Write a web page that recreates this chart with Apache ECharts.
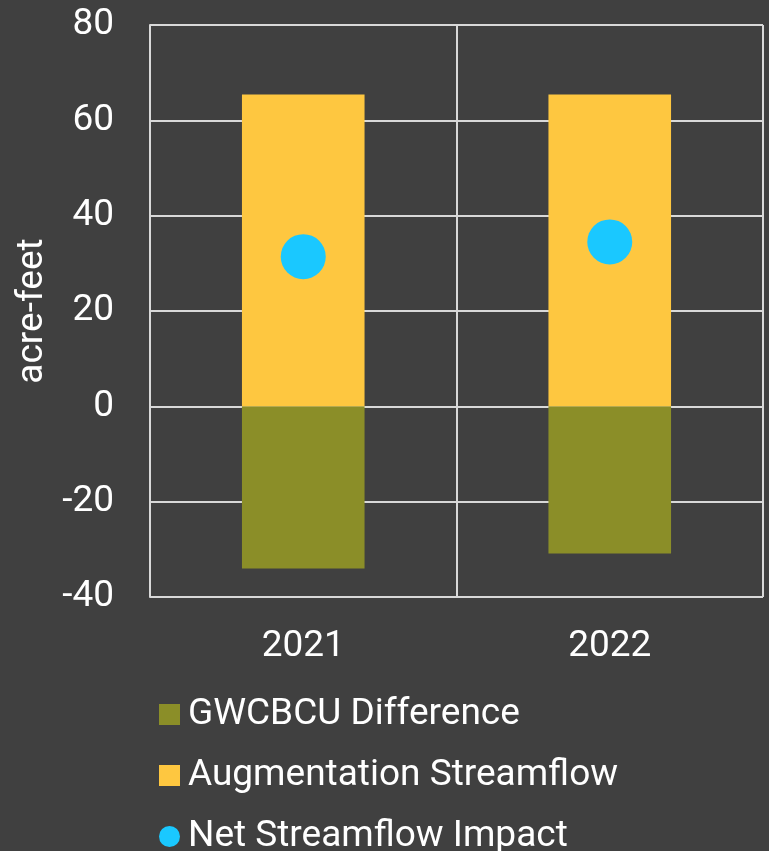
<!DOCTYPE html>
<html>
<head>
<meta charset="utf-8">
<script src="https://cdn.jsdelivr.net/npm/echarts@6/dist/echarts.min.js"></script>
<style>
  html, body { margin: 0; padding: 0; background: #404040; }
  #chart { width: 769px; height: 851px; }
</style>
</head>
<body>
<div id="chart"></div>
<script>
const years = ["2021", "2022"];
const gwcbcuDiff = [-34.0, -30.9];
const augmentation = [65.4, 65.4];
const netImpact = [31.4, 34.5];
const yTicks = { min: -40, max: 80, step: 20 };

const myChart = echarts.init(document.getElementById("chart"));
const gridColor = "#d9d9d9";
const font = "Roboto";

myChart.setOption({
  backgroundColor: "#404040",
  animation: false,
  textStyle: { fontFamily: font },
  grid: {
    left: 150,
    right: 6,
    top: 25,
    bottom: 254,
    containLabel: false,
    outerBoundsMode: "none"
  },
  legend: {
    orient: "vertical",
    left: 159,
    top: 696,
    height: 200,
    padding: 0,
    itemWidth: 21,
    itemHeight: 21,
    itemGap: 24,
    textStyle: {
      color: "#ffffff",
      fontSize: 37,
      fontFamily: font,
      padding: [0, 0, 0, 3]
    },
    data: [
      { name: "GWCBCU Difference", icon: "rect" },
      { name: "Augmentation Streamflow", icon: "rect" },
      { name: "Net Streamflow Impact", icon: "circle" }
    ]
  },
  xAxis: {
    type: "category",
    data: years,
    axisLine: { show: false },
    axisTick: { show: false },
    splitLine: {
      show: true,
      lineStyle: { color: gridColor, width: 2 }
    },
    axisLabel: {
      color: "#ffffff",
      fontSize: 37,
      fontFamily: font,
      margin: 31
    }
  },
  yAxis: {
    type: "value",
    min: yTicks.min,
    max: yTicks.max,
    interval: yTicks.step,
    name: "acre-feet",
    nameLocation: "middle",
    nameGap: 97,
    nameTextStyle: { color: "#ffffff", fontSize: 37, fontFamily: font },
    axisLine: { show: true, lineStyle: { color: gridColor, width: 2 } },
    axisTick: { show: false },
    splitLine: { show: true, lineStyle: { color: gridColor, width: 2 } },
    axisLabel: {
      color: "#ffffff",
      fontSize: 37,
      fontFamily: font,
      margin: 36
    }
  },
  series: [
    {
      name: "GWCBCU Difference",
      type: "bar",
      stack: "total",
      barWidth: "40%",
      itemStyle: { color: "#8b8e28" },
      data: gwcbcuDiff
    },
    {
      name: "Augmentation Streamflow",
      type: "bar",
      stack: "total",
      barWidth: "40%",
      itemStyle: { color: "#fec740" },
      data: augmentation
    },
    {
      name: "Net Streamflow Impact",
      type: "scatter",
      symbol: "circle",
      symbolSize: 45,
      itemStyle: { color: "#1ac8ff", opacity: 1 },
      z: 5,
      data: netImpact
    }
  ]
});
</script>
</body>
</html>
